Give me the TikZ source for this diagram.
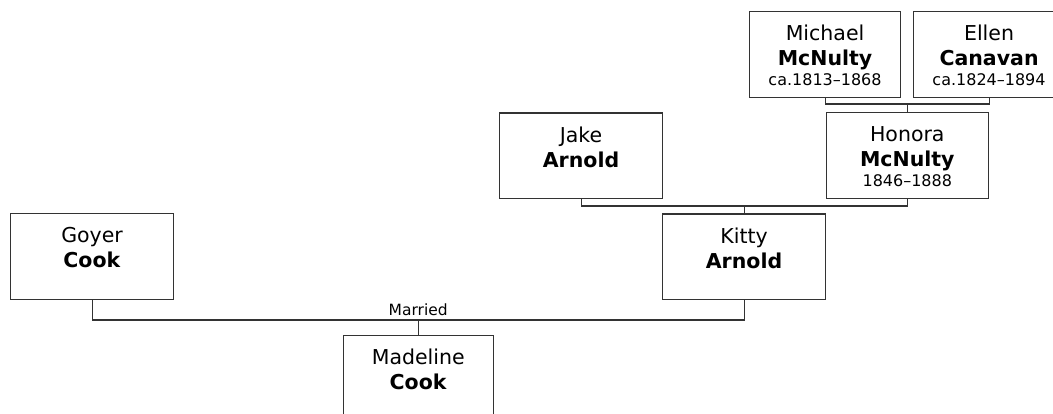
\documentclass[tikz,border=0pt]{standalone}
\usepackage{fontspec}
\setmainfont{DejaVu Sans}
\usetikzlibrary{calc}
\newcommand{\pcard}[4]{\parbox[t][85.7pt][t]{#1pt}{\centering\fontsize{20.5}{25}\selectfont\rule{0pt}{29pt}#2\\\textbf{#3}\\[-5pt]{\fontsize{16}{20}\selectfont #4}}}
\newcommand{\pcardb}[3]{\parbox[t][85.7pt][t]{#1pt}{\centering\fontsize{20.5}{25}\selectfont\rule{0pt}{29pt}#2\\\textbf{#3}}}
\tikzset{
  person/.style={draw=black!80, line width=1.1pt, inner sep=0pt, anchor=north west, text=black},
  link/.style={draw=black!80, line width=1.1pt},
  lbl/.style={font=\fontsize{15.5}{18}\selectfont, inner sep=0pt, anchor=base, text=black}
}
\begin{document}
\begin{tikzpicture}[x=1pt,y=1pt]
\useasboundingbox (0,0) rectangle (1053,-414);
\clip (0,0) rectangle (1053,-414);
\node[person] (mich) at (749,-11) {\pcard{151}{Michael}{McNulty}{ca.1813–1868}};
\node[person] (ellen) at (913,-11) {\pcard{151}{Ellen}{Canavan}{ca.1824–1894}};
\node[person] (honora) at (825.5,-112) {\pcard{162.5}{Honora}{McNulty}{1846–1888}};
\node[person] (jake) at (499,-112.5) {\pcardb{163}{Jake}{Arnold}};
\node[person] (kitty) at (662,-213.5) {\pcardb{163}{Kitty}{Arnold}};
\node[person] (goyer) at (10,-213.3) {\pcardb{163}{Goyer}{Cook}};
\node[person] (madeline) at (342.7,-335) {\pcardb{150}{Madeline}{Cook}};
% Michael + Ellen -> Honora
\path (honora.north) ++(0,8) coordinate (mhub);
\draw[link] (mich.south) |- (mhub) -| (ellen.south);
\draw[link] (mhub) -- (honora.north);
% Jake + Honora -> Kitty
\path (kitty.north) ++(0,7.5) coordinate (khub);
\draw[link] (jake.south) |- (khub) -| (honora.south);
\draw[link] (khub) -- (kitty.north);
% Goyer + Kitty -> Madeline
\path (madeline.north) ++(0,15) coordinate (wed);
\draw[link] (goyer.south) |- (wed) -| (kitty.south);
\draw[link] (wed) -- (madeline.north);
\node[lbl] (married) at ($(wed)+(0,4.5)$) {Married};
\end{tikzpicture}
\end{document}
